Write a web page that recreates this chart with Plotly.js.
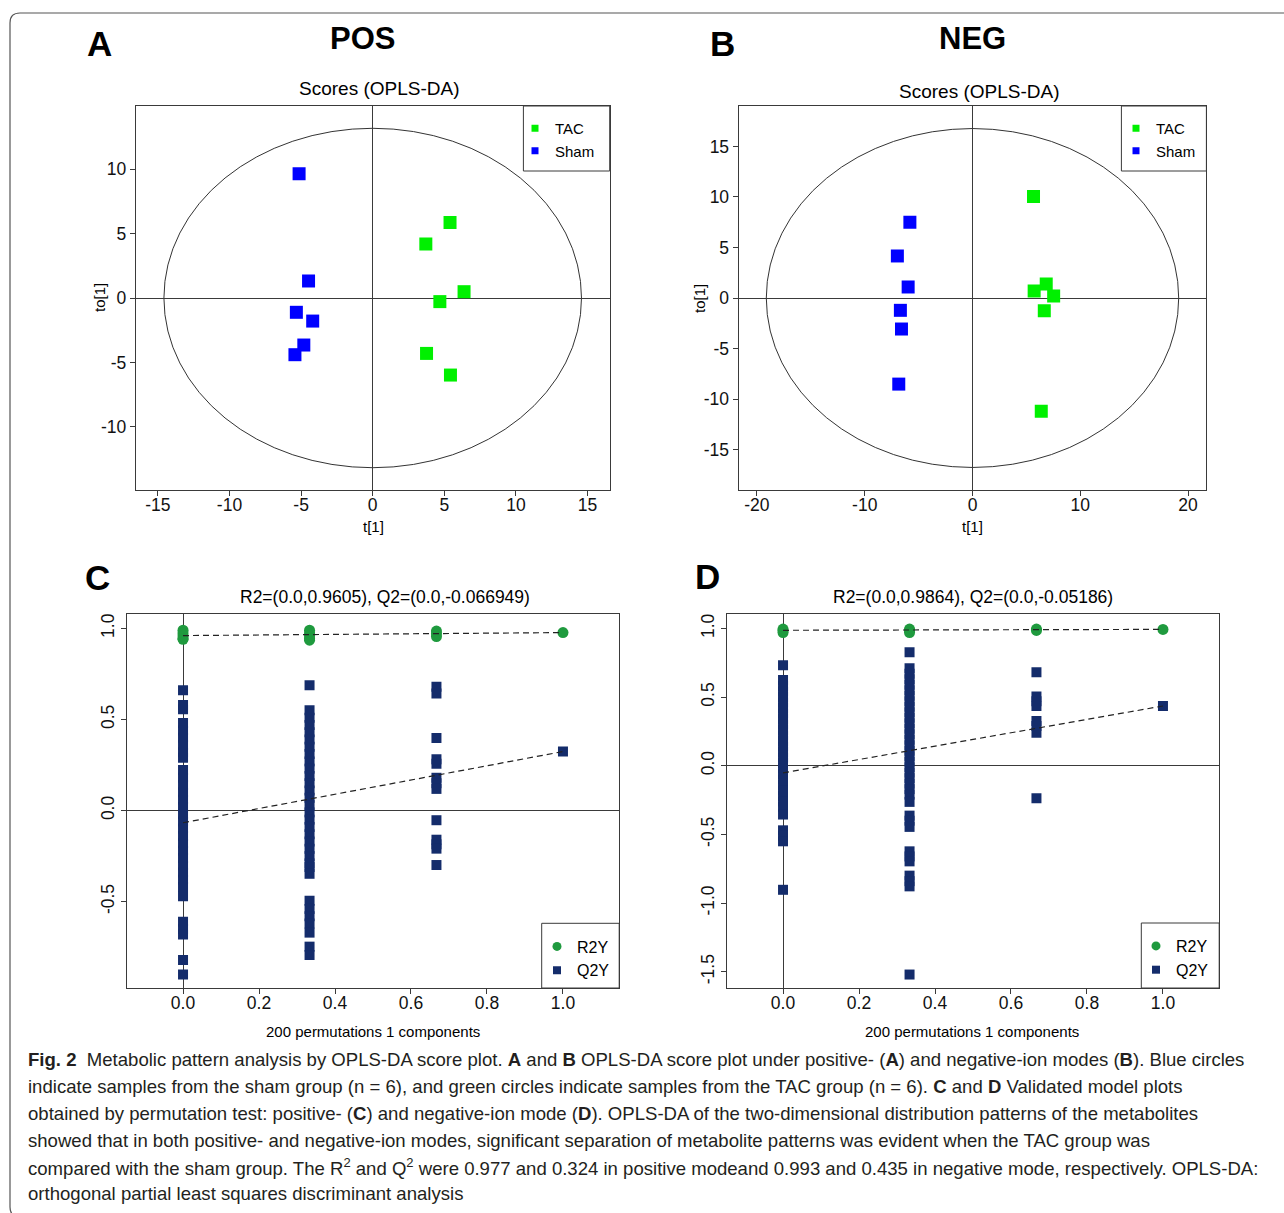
<!DOCTYPE html>
<html><head><meta charset="utf-8">
<script src="https://cdn.plot.ly/plotly-3.0.1.min.js"></script>
<style>html,body{margin:0;padding:0;background:#fff;} #chart{width:1284px;height:1213px;}</style>
</head><body><div id="chart"></div>
<script>
// ================= DATA =================
// Panel A (POS) OPLS-DA scores: t[1] and to[1]
const posTacT   = [5.40, 3.71, 6.38, 4.69, 3.76, 5.43];
const posTacTo  = [5.85, 4.20, 0.49, -0.28, -4.30, -5.98];
const posShamT  = [-5.14, -4.48, -5.33, -4.19, -4.81, -5.43];
const posShamTo = [9.64, 1.32, -1.11, -1.79, -3.65, -4.40];
const posEllipse = [14.58, 13.17];           // Hotelling T2 ellipse semi-axes (t, to)

// Panel B (NEG) OPLS-DA scores
const negTacT   = [5.66, 6.84, 5.72, 7.53, 6.66, 6.38];
const negTacTo  = [10.04, 1.39, 0.69, 0.20, -1.26, -11.2];
const negShamT  = [-5.81, -6.97, -5.97, -6.69, -6.59, -6.84];
const negShamTo = [7.50, 4.16, 1.09, -1.22, -3.07, -8.52];
const negEllipse = [19.13, 16.77];

// Permutation x positions (correlation with original Y)
const permX = [0, 0.333, 0.667, 1];

// Panel C (POS) permutation test
const posR2_0 = [0.99, 0.975, 0.96, 0.945, 0.94];
const posR2_1 = [0.99, 0.975, 0.96, 0.945, 0.935];
const posR2_2 = [0.985, 0.97, 0.955];
const posR2_3 = [0.977];
const posQ2_0 = [0.66, 0.58, 0.556, 0.48, 0.44, 0.40, 0.36, 0.32, 0.29, 0.222, 0.18, 0.14, 0.10, 0.06, 0.02,
                 -0.02, -0.06, -0.10, -0.14, -0.18, -0.22, -0.26, -0.30, -0.34, -0.38, -0.42, -0.47,
                 -0.61, -0.65, -0.68, -0.82, -0.90];
const posQ2_1 = [0.688, 0.55, 0.51, 0.47, 0.43, 0.39, 0.35, 0.31, 0.27, 0.23, 0.19, 0.15, 0.11, 0.07, 0.03,
                 -0.01, -0.05, -0.09, -0.13, -0.17, -0.21, -0.25, -0.29, -0.31, -0.347,
                 -0.495, -0.54, -0.58, -0.62, -0.67, -0.747, -0.793];
const posQ2_2 = [0.679, 0.642, 0.398, 0.281, 0.257, 0.18, 0.15, 0.119, -0.053, -0.16, -0.185, -0.209, -0.299];
const posQ2_3 = [0.324];
const posR2Line = [0.9605, 0.977];     // intercept, original model
const posQ2Line = [-0.066949, 0.324];

// Panel D (NEG) permutation test
const negR2_0 = [0.995, 0.985, 0.97];
const negR2_1 = [0.995, 0.985, 0.97];
const negR2_2 = [0.995, 0.985];
const negR2_3 = [0.993];
const negQ2_0 = [0.732, 0.625, 0.58, 0.54, 0.50, 0.46, 0.42, 0.38, 0.34, 0.30, 0.26, 0.22, 0.18, 0.14, 0.10,
                 0.06, 0.02, -0.02, -0.06, -0.10, -0.14, -0.18, -0.22, -0.26, -0.30, -0.355,
                 -0.47, -0.51, -0.55, -0.903];
const negQ2_1 = [0.827, 0.71, 0.67, 0.63, 0.59, 0.55, 0.51, 0.47, 0.43, 0.39, 0.35, 0.31, 0.27, 0.23, 0.19,
                 0.15, 0.11, 0.07, 0.03, -0.01, -0.05, -0.09, -0.13, -0.17, -0.21, -0.263,
                 -0.363, -0.40, -0.445, -0.623, -0.66, -0.696, -0.80, -0.84, -0.878, -1.52];
const negQ2_2 = [0.681, 0.504, 0.47, 0.436, 0.326, 0.29, 0.241, -0.236];
const negQ2_3 = [0.435];
const negR2Line = [0.9864, 0.993];
const negQ2Line = [-0.05186, 0.435];

// Tick labels
const posXTicks = [-15, -10, -5, 0, 5, 10, 15];
const posXText  = ['-15', '-10', '-5', '0', '5', '10', '15'];
const posYTicks = [-10, -5, 0, 5, 10];
const posYText  = ['-10', '-5', '0', '5', '10'];
const negXTicks = [-20, -10, 0, 10, 20];
const negXText  = ['-20', '-10', '0', '10', '20'];
const negYTicks = [-15, -10, -5, 0, 5, 10, 15];
const negYText  = ['-15', '-10', '-5', '0', '5', '10', '15'];
const permXTicks = [0, 0.2, 0.4, 0.6, 0.8, 1.0];
const permXText  = ['0.0', '0.2', '0.4', '0.6', '0.8', '1.0'];
const posPermYTicks = [-0.5, 0, 0.5, 1.0];
const posPermYText  = ['-0.5', '0.0', '0.5', '1.0'];
const negPermYTicks = [-1.5, -1.0, -0.5, 0, 0.5, 1.0];
const negPermYText  = ['-1.5', '-1.0', '-0.5', '0.0', '0.5', '1.0'];

const captionLines = [
  '<b>Fig. 2</b>  Metabolic pattern analysis by OPLS-DA score plot. <b>A</b> and <b>B</b> OPLS-DA score plot under positive- (<b>A</b>) and negative-ion modes (<b>B</b>). Blue circles',
  'indicate samples from the sham group (n = 6), and green circles indicate samples from the TAC group (n = 6). <b>C</b> and <b>D</b> Validated model plots',
  'obtained by permutation test: positive- (<b>C</b>) and negative-ion mode (<b>D</b>). OPLS-DA of the two-dimensional distribution patterns of the metabolites',
  'showed that in both positive- and negative-ion modes, significant separation of metabolite patterns was evident when the TAC group was',
  'compared with the sham group. The R<sup>2</sup> and Q<sup>2</sup> were 0.977 and 0.324 in positive modeand 0.993 and 0.435 in negative mode, respectively. OPLS-DA:',
  'orthogonal partial least squares discriminant analysis'
];
const captionWidths = [1234, 1186, 1226, 1174, 1250, 447];   // line widths in the figure (px)

// ================= LAYOUT HELPERS =================
const W = 1284, H = 1213;
const px = v => v / W;
const py = v => 1 - v / H;
const FONT = 'Liberation Sans, Arial, Helvetica, sans-serif';
const CAPFONT = 'Liberation Sans';
const GREEN = '#00f000', BLUE = '#0000ff';
const R2COL = '#1f9a3e', Q2COL = '#142c6b';
const LINE = '#3a3a3a';

// caption size: fit the widest line proportionally
const capCtx = document.createElement('canvas').getContext('2d');
capCtx.font = '100px "' + CAPFONT + '"';
let capSize = 19;
captionLines.forEach((t, i) => {
  if (i === 5) return;
  const plain = t.replace(/<[^>]+>/g, '');
  const w = capCtx.measureText(plain).width * 1.01;
  capSize = Math.min(capSize, 100 * captionWidths[i] / w);
});

function axis(domain, range, tickvals, ticktext, anchor, extra) {
  return Object.assign({
    domain: domain, range: range, anchor: anchor, autorange: false,
    tickmode: 'array', tickvals: tickvals, ticktext: ticktext,
    showline: true, mirror: true, linecolor: LINE, linewidth: 1,
    ticks: 'outside', ticklen: 5, tickwidth: 1, tickcolor: LINE,
    tickfont: {family: FONT, size: 17.5, color: '#111'},
    showgrid: false, zeroline: true, zerolinecolor: LINE, zerolinewidth: 1,
    fixedrange: true
  }, extra || {});
}

function column(xv, ys) { return ys.map(() => xv); }

// ================= TRACES =================
const traces = [];
function scoreTraces(xa, ya, lg, tacT, tacTo, shamT, shamTo) {
  traces.push({type: 'scatter', mode: 'markers', x: tacT, y: tacTo, xaxis: xa, yaxis: ya,
    marker: {symbol: 'square', size: 13, color: GREEN}, showlegend: false, hoverinfo: 'skip'});
  traces.push({type: 'scatter', mode: 'markers', x: shamT, y: shamTo, xaxis: xa, yaxis: ya,
    marker: {symbol: 'square', size: 13, color: BLUE}, showlegend: false, hoverinfo: 'skip'});
  traces.push({type: 'scatter', mode: 'markers', x: [null], y: [null], xaxis: xa, yaxis: ya, name: 'TAC',
    legend: lg, marker: {symbol: 'square', size: 7, color: GREEN}});
  traces.push({type: 'scatter', mode: 'markers', x: [null], y: [null], xaxis: xa, yaxis: ya, name: 'Sham',
    legend: lg, marker: {symbol: 'square', size: 7, color: BLUE}});
}
scoreTraces('x', 'y', 'legend', posTacT, posTacTo, posShamT, posShamTo);
scoreTraces('x2', 'y2', 'legend2', negTacT, negTacTo, negShamT, negShamTo);

function permTraces(xa, ya, lg, r2cols, q2cols, r2line, q2line) {
  const qx = [], qy = [], rx = [], ry = [];
  q2cols.forEach((c, i) => { qx.push(...column(permX[i], c)); qy.push(...c); });
  r2cols.forEach((c, i) => { rx.push(...column(permX[i], c)); ry.push(...c); });
  traces.push({type: 'scatter', mode: 'markers', x: qx, y: qy, xaxis: xa, yaxis: ya,
    marker: {symbol: 'square', size: 10, color: Q2COL}, showlegend: false, hoverinfo: 'skip'});
  traces.push({type: 'scatter', mode: 'markers', x: rx, y: ry, xaxis: xa, yaxis: ya,
    marker: {symbol: 'circle', size: 11, color: R2COL}, showlegend: false, hoverinfo: 'skip'});
  traces.push({type: 'scatter', mode: 'lines', x: [permX[0], permX[3]], y: r2line, xaxis: xa, yaxis: ya,
    line: {color: '#222', width: 1.2, dash: '6px,4px'}, showlegend: false, hoverinfo: 'skip'});
  traces.push({type: 'scatter', mode: 'lines', x: [permX[0], permX[3]], y: q2line, xaxis: xa, yaxis: ya,
    line: {color: '#222', width: 1.2, dash: '6px,4px'}, showlegend: false, hoverinfo: 'skip'});
  traces.push({type: 'scatter', mode: 'markers', x: [null], y: [null], xaxis: xa, yaxis: ya, name: 'R2Y',
    legend: lg, marker: {symbol: 'circle', size: 9, color: R2COL}});
  traces.push({type: 'scatter', mode: 'markers', x: [null], y: [null], xaxis: xa, yaxis: ya, name: 'Q2Y',
    legend: lg, marker: {symbol: 'square', size: 8, color: Q2COL}});
}
permTraces('x3', 'y3', 'legend3', [posR2_0, posR2_1, posR2_2, posR2_3], [posQ2_0, posQ2_1, posQ2_2, posQ2_3], posR2Line, posQ2Line);
permTraces('x4', 'y4', 'legend4', [negR2_0, negR2_1, negR2_2, negR2_3], [negQ2_0, negQ2_1, negQ2_2, negQ2_3], negR2Line, negQ2Line);

// ================= ANNOTATIONS =================
function ann(text, x, y, size, extra) {
  return Object.assign({text: text, x: px(x), y: py(y), xref: 'paper', yref: 'paper',
    xanchor: 'center', yanchor: 'middle', showarrow: false,
    font: {family: FONT, size: size, color: '#000'}}, extra || {});
}
const annotations = [
  ann('<b>A</b>', 99, 43, 35), ann('<b>POS</b>', 362.5, 38.5, 31),
  ann('<b>B</b>', 722, 43, 35), ann('<b>NEG</b>', 972, 38.5, 31),
  ann('<b>C</b>', 97, 577, 35), ann('<b>D</b>', 708, 576, 35),
  ann('Scores (OPLS-DA)', 379, 88.5, 19), ann('Scores (OPLS-DA)', 979, 91.5, 19),
  ann('t[1]', 373, 527, 15), ann('t[1]', 973, 527, 15),
  ann('to[1]', 100, 298, 15, {textangle: -90}), ann('to[1]', 700, 298, 15, {textangle: -90}),
  ann('R2=(0.0,0.9605), Q2=(0.0,-0.066949)', 384.7, 597, 17.5),
  ann('R2=(0.0,0.9864), Q2=(0.0,-0.05186)', 973, 597, 17.5),
  ann('200 permutations 1 components', 373.3, 1031.5, 15),
  ann('200 permutations 1 components', 971.7, 1031.5, 15)
];
const capY = [1059, 1086, 1113, 1140, 1166.5, 1193];
captionLines.forEach((t, i) => {
  annotations.push({text: t, x: px(26), y: py(capY[i]), xref: 'paper', yref: 'paper',
    xanchor: 'left', yanchor: 'middle', align: 'left', showarrow: false,
    font: {family: CAPFONT, size: capSize, color: '#231f20'}});
});

// ================= SHAPES =================
function rect(x0, x1, y0, y1) {
  return {type: 'rect', xref: 'paper', yref: 'paper', x0: px(x0), x1: px(x1), y0: py(y1), y1: py(y0),
    line: {color: LINE, width: 1}, fillcolor: 'rgba(0,0,0,0)'};
}
function ellipse(xa, ya, e) {
  return {type: 'circle', xref: xa, yref: ya, x0: -e[0], x1: e[0], y0: -e[1], y1: e[1],
    line: {color: '#333', width: 1}, layer: 'below'};
}
const fx = px(10), ft = py(13), fr = 10;
const framePath = 'M ' + px(1290) + ',' + ft + ' L ' + px(10 + fr) + ',' + ft +
  ' Q ' + fx + ',' + ft + ' ' + fx + ',' + py(13 + fr) +
  ' L ' + fx + ',' + py(1207) + ' Q ' + fx + ',' + py(1217) + ' ' + px(20) + ',' + py(1217) +
  ' L ' + px(1290) + ',' + py(1217);
const shapes = [
  ellipse('x', 'y', posEllipse), ellipse('x2', 'y2', negEllipse),
  rect(523.4, 609.7, 106, 171), rect(1121.4, 1206.4, 106, 171),
  rect(541.7, 619.2, 923.3, 988), rect(1141.3, 1219.2, 923, 988),
  {type: 'path', xref: 'paper', yref: 'paper', path: framePath, line: {color: '#555', width: 1.2}}
];

function legendAt(x, yTop, size) {
  return {x: px(x), y: py(yTop), xanchor: 'left', yanchor: 'top', bgcolor: 'rgba(0,0,0,0)',
    borderwidth: 0, font: {family: FONT, size: size, color: '#000'}, itemclick: false, itemdoubleclick: false};
}

const xStand = {ticklabelstandoff: -6};
const layout = {
  width: W, height: H, margin: {l: 0, r: 0, t: 0, b: 0},
  paper_bgcolor: '#fff', plot_bgcolor: '#fff', showlegend: true,
  font: {family: FONT, color: '#000'},
  xaxis:  axis([px(135.7), px(609.7)], [-16.55, 16.55], posXTicks, posXText, 'y', xStand),
  yaxis:  axis([py(490), py(106)], [-14.9, 14.9], posYTicks, posYText, 'x'),
  xaxis2: axis([px(738.6), px(1206.4)], [-21.7, 21.7], negXTicks, negXText, 'y2', xStand),
  yaxis2: axis([py(490), py(106)], [-19, 19], negYTicks, negYText, 'x2'),
  xaxis3: axis([px(126.8), px(619.2)], [-0.148, 1.148], permXTicks, permXText, 'y3', xStand),
  yaxis3: axis([py(988), py(614)], [-0.974, 1.079], posPermYTicks, posPermYText, 'x3', {tickangle: -90}),
  xaxis4: axis([px(726.8), px(1219.2)], [-0.148, 1.148], permXTicks, permXText, 'y4', xStand),
  yaxis4: axis([py(988), py(614)], [-1.618, 1.105], negPermYTicks, negPermYText, 'x4', {tickangle: -90}),
  legend:  legendAt(515, 112, 15),
  legend2: legendAt(1116, 112, 15),
  legend3: legendAt(537, 929.5, 16),
  legend4: legendAt(1136, 929, 16),
  annotations: annotations,
  shapes: shapes
};

Plotly.newPlot('chart', traces, layout, {staticPlot: true, displayModeBar: false});
</script>
</body></html>
